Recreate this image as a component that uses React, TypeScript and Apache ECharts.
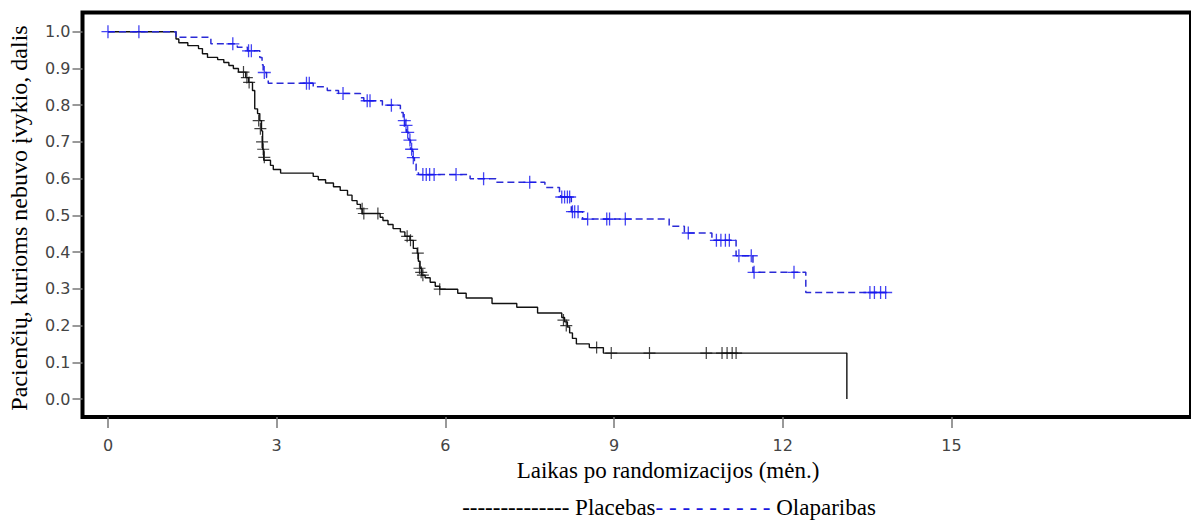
import React, { useEffect, useRef } from "react";
import * as echarts from "echarts";

// Kaplan–Meier step points [time (months), survival]
const placeboSteps: [number, number][] = [
  [0, 1.0], [1.21, 0.98], [1.26, 0.97], [1.42, 0.962], [1.61, 0.954], [1.68, 0.94],
  [1.77, 0.93], [1.95, 0.924], [2.06, 0.916], [2.15, 0.908], [2.23, 0.9], [2.32, 0.89],
  [2.45, 0.875], [2.5, 0.862], [2.57, 0.84], [2.61, 0.79], [2.66, 0.777], [2.7, 0.758],
  [2.73, 0.73], [2.75, 0.68], [2.77, 0.65], [2.89, 0.636], [2.94, 0.625], [3.07, 0.615],
  [3.65, 0.606], [3.74, 0.597], [3.87, 0.588], [4.01, 0.578], [4.13, 0.568], [4.26, 0.555],
  [4.34, 0.54], [4.43, 0.53], [4.49, 0.518], [4.52, 0.505], [4.84, 0.495], [4.89, 0.486],
  [4.98, 0.475], [5.07, 0.464], [5.2, 0.455], [5.28, 0.443], [5.37, 0.432], [5.43, 0.41],
  [5.5, 0.397], [5.52, 0.375], [5.55, 0.356], [5.58, 0.337], [5.64, 0.33], [5.73, 0.318],
  [5.82, 0.307], [5.9, 0.299], [6.22, 0.288], [6.37, 0.275], [6.83, 0.26], [7.27, 0.25],
  [7.64, 0.234], [8.07, 0.222], [8.12, 0.21], [8.17, 0.196], [8.21, 0.18], [8.26, 0.165],
  [8.33, 0.15], [8.56, 0.14], [8.81, 0.125], [13.14, 0.0],
];
const placeboCensored: [number, number][] = [
  [2.41, 0.89], [2.47, 0.875], [2.51, 0.862], [2.68, 0.758], [2.71, 0.736], [2.74, 0.7],
  [2.76, 0.68], [2.78, 0.658], [4.52, 0.518], [4.55, 0.505], [4.8, 0.505], [5.32, 0.443],
  [5.38, 0.432], [5.51, 0.397], [5.54, 0.356], [5.57, 0.345], [5.6, 0.337], [5.9, 0.299],
  [8.1, 0.215], [8.15, 0.2], [8.69, 0.14], [8.95, 0.125], [9.63, 0.125], [10.64, 0.125],
  [10.92, 0.125], [11.01, 0.125], [11.1, 0.125], [11.17, 0.125],
];
const olaparibSteps: [number, number][] = [
  [0, 1.0], [1.21, 0.985], [1.83, 0.967], [2.3, 0.958], [2.48, 0.948], [2.7, 0.93],
  [2.74, 0.91], [2.76, 0.889], [2.82, 0.875], [2.85, 0.86], [3.65, 0.85], [3.9, 0.84],
  [4.1, 0.832], [4.49, 0.82], [4.55, 0.812], [4.88, 0.8], [5.2, 0.78], [5.25, 0.758],
  [5.28, 0.745], [5.31, 0.726], [5.35, 0.705], [5.38, 0.68], [5.42, 0.657], [5.45, 0.64],
  [5.48, 0.622], [5.52, 0.611], [6.44, 0.6], [6.9, 0.59], [7.77, 0.576], [8.03, 0.563],
  [8.05, 0.55], [8.24, 0.51], [8.44, 0.49], [9.98, 0.47], [10.25, 0.452], [10.74, 0.432],
  [11.17, 0.39], [11.47, 0.345], [12.41, 0.29], [13.83, 0.29],
];
const olaparibCensored: [number, number][] = [
  [0, 1.0], [0.55, 1.0], [2.22, 0.967], [2.5, 0.948], [2.55, 0.948], [2.78, 0.889],
  [3.53, 0.86], [3.58, 0.86], [4.18, 0.832], [4.61, 0.812], [4.66, 0.812], [5.04, 0.8],
  [5.27, 0.758], [5.3, 0.745], [5.33, 0.726], [5.37, 0.705], [5.4, 0.68], [5.43, 0.657],
  [5.6, 0.611], [5.66, 0.611], [5.72, 0.611], [5.8, 0.611], [6.19, 0.611], [6.68, 0.6],
  [7.5, 0.59], [8.07, 0.55], [8.12, 0.55], [8.17, 0.55], [8.21, 0.55], [8.26, 0.51],
  [8.3, 0.51], [8.36, 0.51], [8.53, 0.49], [8.87, 0.49], [8.92, 0.49], [9.2, 0.49],
  [10.32, 0.452], [10.82, 0.432], [10.9, 0.432], [10.98, 0.432], [11.05, 0.432],
  [11.22, 0.39], [11.44, 0.39], [11.49, 0.345], [12.2, 0.345], [13.55, 0.29],
  [13.63, 0.29], [13.74, 0.29], [13.83, 0.29],
];
const xTickValues = [0, 3, 6, 9, 12, 15];
const yTickValues = [0, 0.1, 0.2, 0.3, 0.4, 0.5, 0.6, 0.7, 0.8, 0.9, 1.0];
const yTitle = "Pacienčių, kurioms nebuvo įvykio, dalis";
const xTitle = "Laikas po randomizacijos (mėn.)";
const placeboLabel = "Placebas";
const olaparibLabel = "Olaparibas";

const PLUS = "path://M9,0H11V9H20V11H11V20H9V11H0V9H9Z";
const BLUE = "#2b2bd6";

export default function App() {
  const ref = useRef<HTMLDivElement>(null);
  useEffect(() => {
    if (!ref.current) return;
    const chart = echarts.init(ref.current, undefined, { renderer: "svg" });
    const serif = "'Liberation Serif', 'Times New Roman', serif";
    chart.setOption({
      animation: false,
      backgroundColor: "#fff",
      grid: {
        left: 82.5,
        top: 12.5,
        width: 1110.5,
        height: 404.5,
        show: true,
        borderColor: "#000",
        borderWidth: 4,
        backgroundColor: "transparent",
      },
      xAxis: {
        type: "value",
        min: -0.453,
        max: 19.26,
        axisLine: { show: false, onZero: false },
        splitLine: { show: false },
        axisTick: {
          show: true,
          inside: false,
          length: 11,
          customValues: xTickValues,
          lineStyle: { color: "#777", width: 1.5 },
        },
        axisLabel: {
          customValues: xTickValues,
          margin: 20,
          color: "#444",
          fontSize: 16,
          fontFamily: "'DejaVu Sans', sans-serif",
        },
      },
      yAxis: {
        type: "value",
        min: -0.049,
        max: 1.0523,
        axisLine: { show: false, onZero: false },
        splitLine: { show: false },
        axisTick: {
          show: true,
          inside: false,
          length: 10,
          customValues: yTickValues,
          lineStyle: { color: "#777", width: 1.5 },
        },
        axisLabel: {
          customValues: yTickValues,
          margin: 12,
          color: "#444",
          fontSize: 16,
          fontFamily: "'DejaVu Sans', sans-serif",
          formatter: (v: number) => v.toFixed(1),
        },
      },
      series: [
        {
          name: placeboLabel,
          type: "line",
          step: "end",
          data: placeboSteps,
          showSymbol: false,
          lineStyle: { color: "#111", width: 1.4 },
          z: 2,
        },
        {
          name: placeboLabel + " censored",
          type: "scatter",
          data: placeboCensored,
          symbol: PLUS,
          symbolSize: 12,
          itemStyle: { color: "#111" },
          z: 3,
        },
        {
          name: olaparibLabel,
          type: "line",
          step: "end",
          data: olaparibSteps,
          showSymbol: false,
          lineStyle: { color: BLUE, width: 1.5, type: [7, 4] },
          z: 4,
        },
        {
          name: olaparibLabel + " censored",
          type: "scatter",
          data: olaparibCensored,
          symbol: PLUS,
          symbolSize: 13,
          itemStyle: { color: "#1515f0" },
          z: 5,
        },
      ],
      graphic: [
        {
          type: "text",
          x: 19,
          y: 218,
          rotation: Math.PI / 2,
          style: {
            text: yTitle,
            fontFamily: serif,
            fontSize: 24,
            fill: "#000",
            align: "center",
            verticalAlign: "middle",
          },
        },
        {
          type: "text",
          x: 668,
          y: 470,
          style: {
            text: xTitle,
            fontFamily: serif,
            fontSize: 23,
            fill: "#000",
            align: "center",
            verticalAlign: "middle",
          },
        },
        {
          type: "text",
          x: 669,
          y: 507,
          style: {
            text: "{k|-------------- " + placeboLabel + "}{b|- - - - - - - - -}{k| " + olaparibLabel + "}",
            align: "center",
            verticalAlign: "middle",
            rich: {
              k: { fontFamily: serif, fontSize: 23, fill: "#000" },
              b: { fontFamily: serif, fontSize: 23, fill: "#1818e0" },
            },
          },
        },
      ],
    });
    return () => chart.dispose();
  }, []);
  return (
    <div
      ref={ref}
      style={{ position: "absolute", left: 0, top: 0, width: 1191, height: 520 }}
    />
  );
}
